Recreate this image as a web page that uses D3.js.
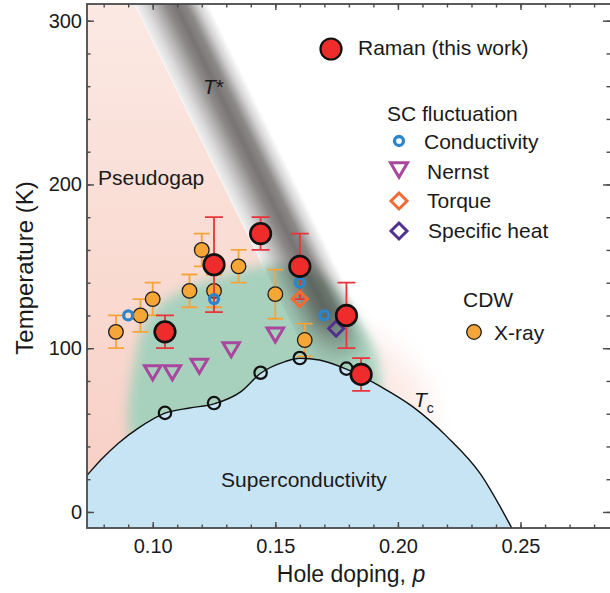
<!DOCTYPE html>
<html>
<head>
<meta charset="utf-8">
<script src="https://cdn.jsdelivr.net/npm/d3@7"></script>
<style>
  body { margin: 0; background: #fff; }
  svg { display: block; font-family: "Liberation Sans", Arial, Helvetica, sans-serif; }
</style>
</head>
<body>
<div id="chart"></div>
<script>
// Raman (this work)
const ramanP = [0.105, 0.125, 0.144, 0.160, 0.179, 0.185];
const ramanT = [110, 151, 170, 150, 120, 84];
const ramanErr = [10, 29, 10, 20, 20, 10];

// CDW, X-ray
const xrayP = [0.085, 0.095, 0.100, 0.115, 0.120, 0.125, 0.135, 0.150, 0.162];
const xrayT = [110, 120, 130, 135, 160, 135, 150, 133, 105];
const xrayErr = [10, 10, 10, 10, 10, 10, 10, 15, 10];

// SC fluctuation
const condP = [0.090, 0.125, 0.160, 0.170];
const condT = [120, 130, 140, 120];
const nernstP = [0.100, 0.108, 0.119, 0.132, 0.150];
const nernstT = [85, 85, 89, 99, 108];
const torqueP = [0.160];
const torqueT = [130];
const heatP = [0.1748];
const heatT = [112];

// Tc data points and dome
const tcP = [0.105, 0.125, 0.144, 0.160, 0.179];
const tcT = [60.5, 66.5, 85, 94, 87.5];
const domeP = [0.070, 0.073, 0.079, 0.086, 0.094, 0.105, 0.115, 0.125, 0.136, 0.144, 0.154, 0.160, 0.168, 0.179, 0.193, 0.206, 0.220, 0.2335, 0.2467];
const domeT = [17, 22, 32, 42, 51, 60.3, 63.5, 66, 73.5, 84.7, 91.8, 93.9, 92.8, 87.2, 76.5, 64.3, 46, 23.6, -10.6];

// T* crossover line
const tStarP = [0.110, 0.179];
const tStarT = [310, 99];

// SC fluctuation (green) region outline
const greenP = [0.095, 0.095, 0.099, 0.106, 0.115, 0.125, 0.140, 0.155, 0.168, 0.180, 0.190, 0.193, 0.193];
const greenT = [30, 108, 120, 130, 137, 143, 149, 151, 145, 125, 100, 80, 30];
// faint pink glow right of T*
const glowP = [0.184, 0.198, 0.212, 0.214, 0.190];
const glowT = [112, 100, 76, 40, 40];

const xMajor = [0.10, 0.15, 0.20, 0.25];
const xMinor = d3.range(8, 29).map(d => d / 100);
const yMajor = [0, 100, 200, 300];
const yMinor = d3.range(0, 301, 20);

const W = 610, H = 593;
const pL = 87, pT = 4, pR = 611, pB = 528;

const x = d3.scaleLinear().domain([0.0732, 0.2869]).range([pL, pR]);
const y = d3.scaleLinear().domain([-9.8, 310.2]).range([pB, pT]);

const svg = d3.select("#chart").append("svg")
    .attr("width", W)
    .attr("height", H);

const defs = svg.append("defs");
defs.append("clipPath").attr("id", "plot")
    .append("rect").attr("x", pL).attr("y", pT)
    .attr("width", pR - pL).attr("height", pB - pT);

defs.append("filter").attr("id", "blur")
    .attr("x", "-30%").attr("y", "-30%").attr("width", "160%").attr("height", "160%")
    .append("feGaussianBlur").attr("stdDeviation", 6);
defs.append("filter").attr("id", "blur2")
    .attr("x", "-50%").attr("y", "-50%").attr("width", "200%").attr("height", "200%")
    .append("feGaussianBlur").attr("stdDeviation", 12);

const pinkGrad = defs.append("linearGradient").attr("id", "pink")
    .attr("gradientUnits", "userSpaceOnUse")
    .attr("x1", 0).attr("y1", pT).attr("x2", 0).attr("y2", pB);
pinkGrad.append("stop").attr("offset", 0).attr("stop-color", "#fbe9e3");
pinkGrad.append("stop").attr("offset", 1).attr("stop-color", "#f7cdc2");

// across the T* band: offset 0 = right side, 1 = left (pseudogap) side
const bandGrad = defs.append("linearGradient").attr("id", "band")
    .attr("x1", 0).attr("y1", 0).attr("x2", 0).attr("y2", 1);
[[0, 0], [0.14, 0.3], [0.3, 0.85], [0.45, 1], [0.58, 0.85], [0.74, 0.52], [0.88, 0.25], [1, 0.1]]
    .forEach(([o, a]) => bandGrad.append("stop").attr("offset", o)
        .attr("stop-color", "#3e3838").attr("stop-opacity", a * 0.7));

const fadeGrad = defs.append("linearGradient").attr("id", "fade")
    .attr("x1", 0).attr("y1", 0).attr("x2", 1).attr("y2", 0);

const plot = svg.append("g").attr("clip-path", "url(#plot)");

// T* geometry in pixels
const c1 = [x(tStarP[0]), y(tStarT[0])];
const c2 = [x(tStarP[1]), y(tStarT[1])];
const len = Math.hypot(c2[0] - c1[0], c2[1] - c1[1]);
const ang = Math.atan2(c2[1] - c1[1], c2[0] - c1[0]);
const ux = Math.cos(ang), uy = Math.sin(ang);
const nx = -Math.sin(ang), ny = Math.cos(ang);
const wRight = 28, wLeft = 38;
const edgeAt = t => [c1[0] + t * ux + wLeft * nx, c1[1] + t * uy + wLeft * ny];

// pseudogap (pink)
const e0 = edgeAt(-60), e1 = edgeAt(len + 300);
plot.append("path")
    .attr("d", `M0,0L${e0[0]},${e0[1]}L${e1[0]},${e1[1]}L0,${H}Z`)
    .attr("fill", "url(#pink)");
// thin light seam along the pseudogap edge
plot.append("path")
    .attr("d", `M${e0[0]},${e0[1]}L${e1[0]},${e1[1]}`)
    .attr("stroke", "#fff").attr("stroke-width", 1).attr("opacity", 0.7);

// pink glow right of band
const polyLine = d3.line().x(d => x(d[0])).y(d => y(d[1]));
plot.append("path")
    .attr("d", polyLine(d3.zip(glowP, glowT)) + "Z")
    .attr("fill", "#f9d9d0").attr("opacity", 0.5)
    .attr("filter", "url(#blur2)");

// SC fluctuation (green)
plot.append("path")
    .attr("d", d3.line().x(d => x(d[0])).y(d => y(d[1])).curve(d3.curveCatmullRomClosed)(d3.zip(greenP, greenT)))
    .attr("fill", "#a7d1bd")
    .attr("filter", "url(#blur)");

// T* band
fadeGrad.append("stop").attr("offset", 0).attr("stop-color", "#fff");
fadeGrad.append("stop").attr("offset", (len + 40) / (len + 120)).attr("stop-color", "#fff");
fadeGrad.append("stop").attr("offset", (len + 95) / (len + 120)).attr("stop-color", "#000");
fadeGrad.append("stop").attr("offset", 1).attr("stop-color", "#000");
defs.append("mask").attr("id", "bandMask")
    .attr("maskUnits", "userSpaceOnUse")
    .attr("x", -100).attr("y", -100).attr("width", len + 300).attr("height", 300)
    .append("rect")
    .attr("x", -80).attr("y", -wRight).attr("width", len + 120).attr("height", wRight + wLeft)
    .attr("fill", "url(#fade)");

plot.append("g")
    .attr("transform", `translate(${c1[0]},${c1[1]}) rotate(${ang * 180 / Math.PI})`)
    .append("rect")
    .attr("x", -80).attr("y", -wRight)
    .attr("width", len + 120).attr("height", wRight + wLeft)
    .attr("fill", "url(#band)")
    .attr("mask", "url(#bandMask)");

// superconducting dome
const dome = d3.zip(domeP, domeT);
plot.append("path")
    .attr("d", d3.area().x(d => x(d[0])).y0(y(-20)).y1(d => y(d[1])).curve(d3.curveMonotoneX)(dome))
    .attr("fill", "#c7e4f5");
plot.append("path")
    .attr("d", d3.line().x(d => x(d[0])).y(d => y(d[1])).curve(d3.curveMonotoneX)(dome))
    .attr("fill", "none").attr("stroke", "#111").attr("stroke-width", 1.4);

// axes
const fontTick = 20;
function styleAxis(g) {
    g.select(".domain").remove();
    g.selectAll("line").attr("stroke", "#4a4a4a").attr("stroke-width", 1.4);
    g.attr("font-size", fontTick).attr("font-family", null);
    g.selectAll("text").attr("fill", "#1a1a1a");
}
svg.append("g").attr("transform", `translate(0,${pB})`)
    .call(d3.axisBottom(x).tickValues(xMinor).tickSize(-3.5).tickFormat("")).call(styleAxis);
svg.append("g").attr("transform", `translate(0,${pB})`)
    .call(d3.axisBottom(x).tickValues(xMajor).tickSize(-6).tickPadding(11).tickFormat(d3.format(".2f"))).call(styleAxis);
svg.append("g").attr("transform", `translate(0,${pT})`)
    .call(d3.axisTop(x).tickValues(xMinor).tickSize(-3.5).tickFormat("")).call(styleAxis);
svg.append("g").attr("transform", `translate(0,${pT})`)
    .call(d3.axisTop(x).tickValues(xMajor).tickSize(-6).tickFormat("")).call(styleAxis);
svg.append("g").attr("transform", `translate(${pL},0)`)
    .call(d3.axisLeft(y).tickValues(yMinor).tickSize(-3.5).tickFormat("")).call(styleAxis);
svg.append("g").attr("transform", `translate(${pL},0)`)
    .call(d3.axisLeft(y).tickValues(yMajor).tickSize(-7).tickPadding(5).tickFormat(d3.format("d"))).call(styleAxis);
svg.append("g").attr("transform", `translate(${pR},0)`)
    .call(d3.axisRight(y).tickValues(yMinor).tickSize(-4.5).tickFormat("")).call(styleAxis);
svg.append("g").attr("transform", `translate(${pR},0)`)
    .call(d3.axisRight(y).tickValues(yMajor).tickSize(-8).tickFormat("")).call(styleAxis);

svg.append("rect")
    .attr("x", pL).attr("y", pT).attr("width", pR - pL).attr("height", pB - pT)
    .attr("fill", "none").attr("stroke", "#4a4a4a").attr("stroke-width", 1.8);

// markers
const marks = svg.append("g").attr("clip-path", "url(#plot)");

function errorBars(g, P, T, E, color, cap) {
    const eb = g.append("g").attr("stroke", color).attr("stroke-width", 1.8).attr("fill", "none");
    P.forEach((p, i) => {
        const cx = x(p), t0 = y(T[i] - E[i]), t1 = y(T[i] + E[i]);
        eb.append("path").attr("d", `M${cx},${t0}V${t1}M${cx - cap},${t0}H${cx + cap}M${cx - cap},${t1}H${cx + cap}`);
    });
}

const triangle = (w, h) => `M${-w / 2},${-h / 2}L${w / 2},${-h / 2}L0,${h / 2}Z`;
const diamond = r => `M0,${-r}L${r},0L0,${r}L${-r},0Z`;

errorBars(marks, xrayP, xrayT, xrayErr, "#f5a43c", 8);
marks.append("g").selectAll("circle").data(d3.zip(xrayP, xrayT)).join("circle")
    .attr("cx", d => x(d[0])).attr("cy", d => y(d[1])).attr("r", 7.3)
    .attr("fill", "#f6a637").attr("stroke", "#1e1e1e").attr("stroke-width", 1.3);

errorBars(marks, ramanP, ramanT, ramanErr, "#e8343a", 9);

marks.append("g").selectAll("circle").data(d3.zip(condP, condT)).join("circle")
    .attr("cx", d => x(d[0])).attr("cy", d => y(d[1])).attr("r", 4.5)
    .attr("fill", "none").attr("stroke", "#2c85c8").attr("stroke-width", 3.3);

marks.append("g").selectAll("path").data(d3.zip(nernstP, nernstT)).join("path")
    .attr("transform", d => `translate(${x(d[0])},${y(d[1])})`)
    .attr("d", triangle(16.5, 14))
    .attr("fill", "none").attr("stroke", "#a9479e").attr("stroke-width", 3);

marks.append("g").selectAll("path").data(d3.zip(torqueP, torqueT)).join("path")
    .attr("transform", d => `translate(${x(d[0])},${y(d[1])})`)
    .attr("d", diamond(7.5))
    .attr("fill", "none").attr("stroke", "#f26b35").attr("stroke-width", 3);

marks.append("g").selectAll("path").data(d3.zip(heatP, heatT)).join("path")
    .attr("transform", d => `translate(${x(d[0])},${y(d[1])})`)
    .attr("d", diamond(7.5))
    .attr("fill", "none").attr("stroke", "#52308f").attr("stroke-width", 3);

marks.append("g").selectAll("circle").data(d3.zip(tcP, tcT)).join("circle")
    .attr("cx", d => x(d[0])).attr("cy", d => y(d[1])).attr("r", 6.2)
    .attr("fill", "none").attr("stroke", "#111").attr("stroke-width", 2.2);

marks.append("g").selectAll("circle").data(d3.zip(ramanP, ramanT)).join("circle")
    .attr("cx", d => x(d[0])).attr("cy", d => y(d[1])).attr("r", 10.3)
    .attr("fill", "#ee2c2c").attr("stroke", "#111").attr("stroke-width", 2.6);

// region labels
const fontLab = 21;
const txt = svg.append("g").attr("font-size", fontLab).attr("fill", "#1a1a1a");
txt.append("text").attr("x", 98).attr("y", 185).text("Pseudogap");
txt.append("text").attr("x", 304).attr("y", 487).attr("text-anchor", "middle").text("Superconductivity");
const ts = txt.append("text").attr("x", 203).attr("y", 94);
ts.append("tspan").attr("font-style", "italic").text("T");
ts.append("tspan").text("*");
const tc = txt.append("text").attr("x", 414).attr("y", 407);
tc.append("tspan").attr("font-style", "italic").text("T");
tc.append("tspan").attr("font-size", 14).attr("dy", 6).text("c");

// legend
const lg = svg.append("g").attr("font-size", fontLab).attr("fill", "#1a1a1a");
lg.append("circle").attr("cx", 331).attr("cy", 49).attr("r", 10.5)
    .attr("fill", "#ee2c2c").attr("stroke", "#111").attr("stroke-width", 2.2);
lg.append("text").attr("x", 358).attr("y", 55).text("Raman (this work)");
lg.append("text").attr("x", 387).attr("y", 121).text("SC fluctuation");
lg.append("circle").attr("cx", 399).attr("cy", 141).attr("r", 4.5)
    .attr("fill", "none").attr("stroke", "#2c85c8").attr("stroke-width", 3.3);
lg.append("text").attr("x", 424).attr("y", 149).text("Conductivity");
lg.append("path").attr("transform", "translate(399,170)").attr("d", triangle(17, 14.5))
    .attr("fill", "none").attr("stroke", "#a9479e").attr("stroke-width", 3);
lg.append("text").attr("x", 427).attr("y", 179).text("Nernst");
lg.append("path").attr("transform", "translate(399,201)").attr("d", diamond(8))
    .attr("fill", "none").attr("stroke", "#f26b35").attr("stroke-width", 3);
lg.append("text").attr("x", 427).attr("y", 208).text("Torque");
lg.append("path").attr("transform", "translate(399,231)").attr("d", diamond(8))
    .attr("fill", "none").attr("stroke", "#52308f").attr("stroke-width", 3);
lg.append("text").attr("x", 428).attr("y", 238).text("Specific heat");
lg.append("text").attr("x", 463).attr("y", 307).text("CDW");
lg.append("circle").attr("cx", 474).attr("cy", 332).attr("r", 7.3)
    .attr("fill", "#f6a637").attr("stroke", "#1e1e1e").attr("stroke-width", 1.3);
lg.append("text").attr("x", 494).attr("y", 340).text("X-ray");

// axis titles
const xt = svg.append("text").attr("x", 351).attr("y", 582)
    .attr("text-anchor", "middle").attr("font-size", 23).attr("fill", "#1a1a1a");
xt.append("tspan").text("Hole doping, ");
xt.append("tspan").attr("font-style", "italic").text("p");
svg.append("text")
    .attr("transform", `translate(33,268) rotate(-90)`)
    .attr("text-anchor", "middle").attr("font-size", 24).attr("fill", "#1a1a1a")
    .text("Temperature (K)");
</script>
</body>
</html>
